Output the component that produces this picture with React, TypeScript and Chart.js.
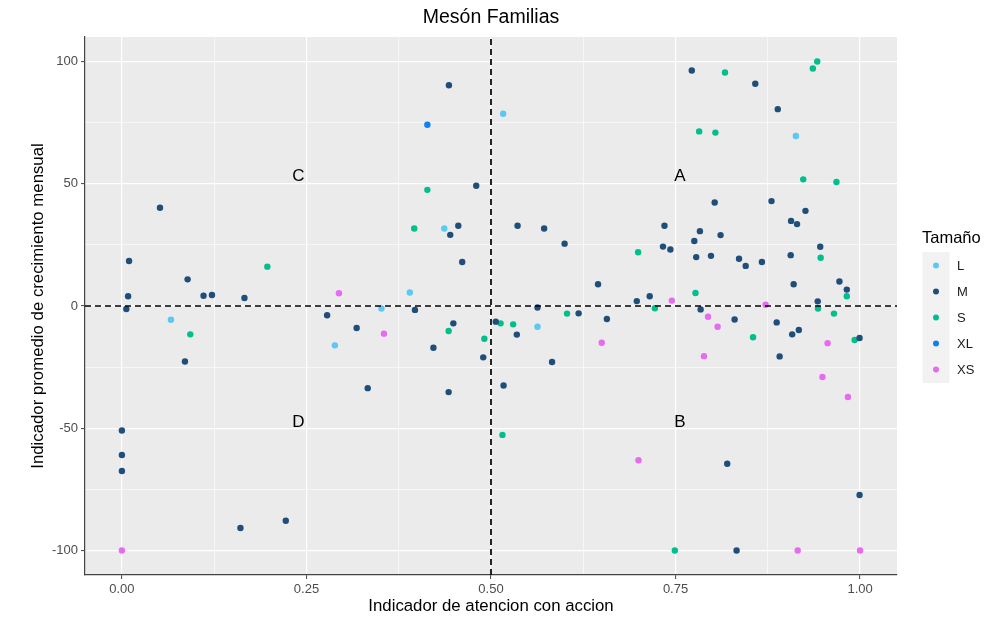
import React, { useEffect, useRef } from 'react';
import { Chart, registerables } from 'chart.js';

Chart.register(...registerables);

// ---- Data ----
const sizeCategories = ['L', 'M', 'S', 'XL', 'XS'];
const sizeColors = ['#5CC8F5', '#1F4E7A', '#00BF8C', '#0F7FF2', '#E66BF0'];

const L_x = [0.5165, 0.4367, 0.39, 0.3516, 0.0664, 0.2885, 0.563, 0.913];
const L_y = [78.6, 31.7, 5.5, -1.0, -5.6, -16.1, -8.5, 69.5];

const M_x = [
  0.0516, 0.0097, 0.0084, 0.089, 0.1106, 0.122, 0.166,
  0.443, 0.48, 0.4557, 0.4448, 0.461, 0.536, 0.572, 0.5997, 0.645, 0.563,
  0.772, 0.858, 0.8885, 0.803, 0.88, 0.926, 0.9065, 0.9146, 0.735, 0.783, 0.811, 0.7754,
  0.733, 0.743, 0.946, 0.778, 0.798, 0.906, 0.836, 0.845, 0.867, 0.91, 0.972, 0.982,
  0.715, 0.6975, 0.9426,
  0.784, 0.83, 0.887, 0.908, 0.917, 0.9993, 0.891, 0.82, 0.9993, 0.8327,
  0.006, 0.0854, 0.278, 0.0, 0.0, 0.0, 0.1606, 0.222, 0.318,
  0.397, 0.449, 0.422, 0.4895, 0.333, 0.4426, 0.5065, 0.535, 0.517, 0.5827, 0.6187, 0.657,
];
const M_y = [
  40.2, 18.4, 4.0, 10.9, 4.2, 4.5, 3.3,
  90.3, 49.2, 32.8, 29.1, 18.0, 32.8, 31.7, 25.5, 8.9, -0.6,
  96.3, 90.9, 80.5, 42.3, 42.9, 38.9, 34.8, 33.5, 32.8, 30.6, 29.0, 26.6,
  24.3, 23.1, 24.2, 20.0, 20.5, 20.8, 19.3, 16.4, 18.0, 8.9, 10.0, 6.7,
  4.0, 2.0, 1.9,
  -1.4, -5.5, -6.7, -11.6, -9.8, -13.1, -20.6, -64.5, -77.3, -100,
  -1.2, -22.7, -3.8, -50.9, -60.9, -67.5, -90.8, -87.8, -9.0,
  -1.6, -7.1, -17.1, -21.0, -33.6, -35.2, -6.4, -11.7, -32.5, -22.9, -3.0, -5.3,
];

const S_x = [
  0.4138, 0.396, 0.197, 0.817, 0.936, 0.942, 0.782, 0.804, 0.923, 0.968, 0.6993, 0.9466,
  0.982, 0.777, 0.722, 0.943, 0.855, 0.9646, 0.9926, 0.749, 0.0926, 0.4426, 0.491, 0.513,
  0.53, 0.5155, 0.603,
];
const S_y = [
  47.5, 31.7, 16.1, 95.5, 97.1, 100, 71.4, 70.9, 51.8, 50.7, 22.0, 19.7,
  4.0, 5.3, -0.9, -1.0, -12.8, -3.1, -13.9, -100, -11.6, -10.2, -13.4, -7.1,
  -7.5, -52.7, -3.1,
];

const XL_x = [0.4138];
const XL_y = [74.1];

const XS_x = [0.294, 0.745, 0.872, 0.794, 0.807, 0.956, 0.7885, 0.949, 0.9835, 0.6998, 0.9155, 1.0, 0.0, 0.355, 0.65];
const XS_y = [5.2, 2.2, 0.5, -4.4, -8.5, -15.2, -20.5, -29.0, -37.2, -63.1, -100, -100, -100, -11.3, -15.0];

const seriesX = [L_x, M_x, S_x, XL_x, XS_x];
const seriesY = [L_y, M_y, S_y, XL_y, XS_y];

const xTickValues = [0, 0.125, 0.25, 0.375, 0.5, 0.625, 0.75, 0.875, 1.0];
const xMajorTicks = [0, 0.25, 0.5, 0.75, 1.0];
const yTickValues = [-100, -75, -50, -25, 0, 25, 50, 75, 100];
const yMajorTicks = [-100, -50, 0, 50, 100];

const quadrantText = ['A', 'B', 'C', 'D'];
const quadrantX = [0.756, 0.756, 0.239, 0.239];
const quadrantY = [52.9, -47.5, 52.9, -47.5];

const refX = 0.5;
const refY = 0;

const chartTitle = 'Mesón Familias';
const xTitle = 'Indicador de atencion con accion';
const yTitle = 'Indicador promedio de crecimiento mensual';
const legendTitle = 'Tamaño';

const FONT = '"Liberation Sans", Arial, sans-serif';

export default function App() {
  const canvasRef = useRef<HTMLCanvasElement | null>(null);

  useEffect(() => {
    const canvas = canvasRef.current;
    if (!canvas) return;

    const isMajorX = (v: number) => xMajorTicks.some((m) => Math.abs(m - v) < 1e-9);
    const isMajorY = (v: number) => yMajorTicks.some((m) => Math.abs(m - v) < 1e-9);

    const bgPlugin = {
      id: 'panelBg',
      beforeDraw(chart: any) {
        const { ctx, chartArea: a } = chart;
        ctx.save();
        ctx.fillStyle = '#FFFFFF';
        ctx.fillRect(0, 0, chart.width, chart.height);
        ctx.fillStyle = '#EBEBEB';
        ctx.fillRect(a.left, a.top, a.right - a.left, a.bottom - a.top);
        ctx.restore();
      },
    };

    const overlayPlugin = {
      id: 'overlay',
      afterDatasetsDraw(chart: any) {
        const { ctx, chartArea: a } = chart;
        const xs = chart.scales.x;
        const ys = chart.scales.y;
        ctx.save();
        // quadrant labels
        ctx.fillStyle = '#000000';
        ctx.font = `17px ${FONT}`;
        ctx.textAlign = 'center';
        ctx.textBaseline = 'middle';
        quadrantText.forEach((t, i) => {
          ctx.fillText(t, xs.getPixelForValue(quadrantX[i]), ys.getPixelForValue(quadrantY[i]));
        });
        // title
        ctx.font = `19.5px ${FONT}`;
        ctx.fillStyle = '#000000';
        ctx.fillText(chartTitle, (a.left + a.right) / 2, 18);
        // legend
        ctx.textAlign = 'left';
        ctx.font = `16.5px ${FONT}`;
        ctx.fillText(legendTitle, 922, 238);
        ctx.fillStyle = '#F2F2F2';
        ctx.fillRect(922.5, 252, 27, 131);
        ctx.font = `13px ${FONT}`;
        sizeCategories.forEach((c, i) => {
          const cy = 265.5 + i * 26;
          ctx.beginPath();
          ctx.arc(936, cy, 3, 0, Math.PI * 2);
          ctx.fillStyle = sizeColors[i];
          ctx.fill();
          ctx.fillStyle = '#1A1A1A';
          ctx.fillText(c, 957, cy + 1);
        });
        ctx.restore();
      },
    };

    const pointSets = sizeCategories.map((c, i) => ({
      type: 'scatter' as const,
      label: c,
      data: seriesX[i].map((x, j) => ({ x, y: seriesY[i][j] })),
      backgroundColor: sizeColors[i],
      borderColor: sizeColors[i],
      pointRadius: 3.2,
      pointBorderWidth: 0,
      showLine: false,
    }));

    const lineSets = [
      {
        type: 'line' as const,
        label: 'vref',
        data: [{ x: refX, y: -110 }, { x: refX, y: 110 }],
        borderColor: '#000000',
        borderWidth: 1.7,
        borderDash: [6, 4],
        pointRadius: 0,
        fill: false,
      },
      {
        type: 'line' as const,
        label: 'href',
        data: [{ x: -0.05, y: refY }, { x: 1.05, y: refY }],
        borderColor: '#000000',
        borderWidth: 1.7,
        borderDash: [6, 4],
        pointRadius: 0,
        fill: false,
      },
    ];

    const chart = new Chart(canvas, {
      type: 'scatter',
      data: { datasets: [...lineSets, ...pointSets] as any },
      options: {
        animation: false,
        responsive: false,
        devicePixelRatio: 1,
        layout: { padding: { top: 37, right: 109, left: 0, bottom: 0 } },
        plugins: {
          legend: { display: false },
          tooltip: { enabled: false },
          title: { display: false },
        },
        scales: {
          x: {
            type: 'linear',
            position: 'bottom',
            min: -0.05,
            max: 1.05,
            afterBuildTicks: (scale: any) => {
              scale.ticks = xTickValues.map((v) => ({ value: v }));
            },
            afterFit: (scale: any) => {
              scale.height = 45;
            },
            ticks: {
              autoSkip: false,
              maxRotation: 0,
              padding: 3,
              color: '#4D4D4D',
              font: { family: FONT, size: 13 },
              callback: (v: any) => (isMajorX(Number(v)) ? Number(v).toFixed(2) : ''),
            },
            grid: {
              color: '#FFFFFF',
              lineWidth: (ctx: any) => (ctx.tick && isMajorX(ctx.tick.value) ? 1.2 : 0.6),
              drawTicks: true,
              tickLength: 4,
              tickWidth: 1,
              tickColor: (ctx: any) => (ctx.tick && isMajorX(ctx.tick.value) ? '#444444' : 'rgba(0,0,0,0)'),
            },
            border: { display: true, color: '#444444', width: 1.2 },
            title: {
              display: true,
              text: xTitle,
              color: '#000000',
              font: { family: FONT, size: 16.8 },
              padding: { top: 0, bottom: 4 },
            },
          },
          y: {
            type: 'linear',
            position: 'left',
            min: -110,
            max: 110,
            afterBuildTicks: (scale: any) => {
              scale.ticks = yTickValues.map((v) => ({ value: v }));
            },
            afterFit: (scale: any) => {
              scale.width = 85;
            },
            ticks: {
              autoSkip: false,
              padding: 3,
              color: '#4D4D4D',
              font: { family: FONT, size: 13 },
              callback: (v: any) => (isMajorY(Number(v)) ? String(v) : ''),
            },
            grid: {
              color: '#FFFFFF',
              lineWidth: (ctx: any) => (ctx.tick && isMajorY(ctx.tick.value) ? 1.2 : 0.6),
              drawTicks: true,
              tickLength: 4,
              tickWidth: 1,
              tickColor: (ctx: any) => (ctx.tick && isMajorY(ctx.tick.value) ? '#444444' : 'rgba(0,0,0,0)'),
            },
            border: { display: true, color: '#444444', width: 1.2 },
            title: {
              display: true,
              text: yTitle,
              color: '#000000',
              font: { family: FONT, size: 16.8 },
              padding: { top: 28, bottom: 0 },
            },
          },
        },
      } as any,
      plugins: [bgPlugin, overlayPlugin],
    });

    return () => {
      chart.destroy();
    };
  }, []);

  return (
    <div style={{ position: 'fixed', left: 0, top: 0, width: 1006, height: 620, background: '#FFFFFF' }}>
      <canvas ref={canvasRef} width={1006} height={620} />
    </div>
  );
}
